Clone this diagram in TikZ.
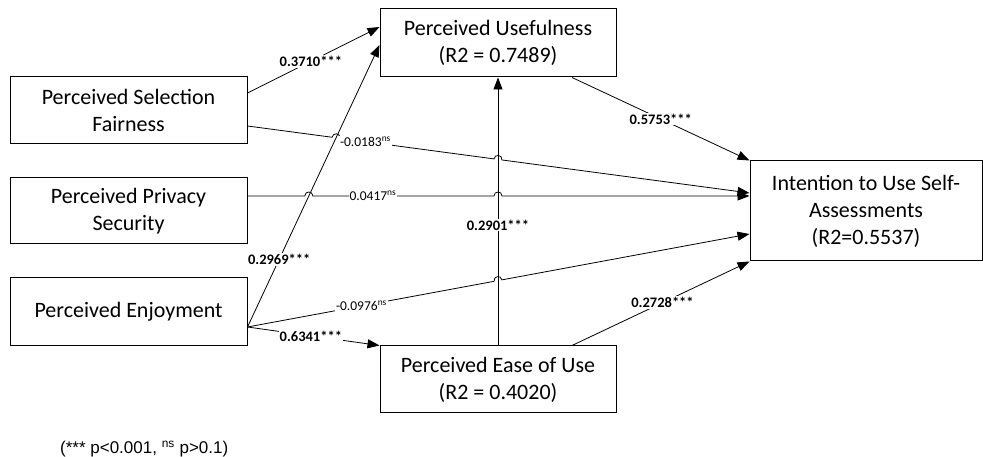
\documentclass[tikz,border=0pt]{standalone}
\usepackage{fontspec}
\setmainfont{Carlito}
\newfontfamily\arialf{Liberation Sans}
\usetikzlibrary{arrows.meta,calc}
\begin{document}
\begin{tikzpicture}[x=1pt,y=1pt,
  box/.style={draw, line width=1pt, inner sep=0pt, align=center, font=\fontsize{22}{27}\selectfont},
  conn/.style={line width=0.8pt, -{Triangle[length=12pt,width=9pt]}},
  lab/.style={fill=white, inner sep=1pt, font=\fontsize{14.5}{16}\selectfont\bfseries},
  labns/.style={fill=white, inner sep=1pt, font=\fontsize{13.5}{16}\selectfont}]
\useasboundingbox (0,0) rectangle (983,457);

% boxes
\node[box, minimum width=237, minimum height=67] (PSF) at (128.5,346.5) {Perceived Selection\\Fairness};
\node[box, minimum width=237, minimum height=66] (PPS) at (128.5,246) {Perceived Privacy\\Security};
\node[box, minimum width=237, minimum height=68] (PE) at (128.5,145) {Perceived Enjoyment};
\node[box, minimum width=236, minimum height=68] (PU) at (498,414) {Perceived Usefulness\\(R2 = 0.7489)};
\node[box, minimum width=236, minimum height=67] (PEOU) at (498,77.5) {Perceived Ease of Use\\(R2 = 0.4020)};
\node[box, minimum width=232, minimum height=100] (ITU) at (866,246) {Intention to Use Self-\\Assessments\\(R2=0.5537)};

% endpoints
\coordinate (s0a) at ([yshift=17.5]PSF.east);
\coordinate (s0b) at ([yshift=16]PU.west);
\coordinate (a1) at ([yshift=-15]PE.east);
\coordinate (a2) at ([yshift=-2]PU.west);
\coordinate (s1) at ([yshift=-15.5]PSF.east);
\coordinate (s2) at ([yshift=18]ITU.west);
\coordinate (p1) at ([yshift=15]PPS.east);
\coordinate (p2) at ([yshift=15]ITU.west);
\coordinate (e2) at ([yshift=-23]ITU.west);
\coordinate (v1) at (PEOU.north);
\coordinate (v2) at (PU.south);
\coordinate (u1) at ([xshift=74]PU.south);
\coordinate (q1) at ([xshift=74]PEOU.north);

% hop centres
\coordinate (h1) at (intersection of s1--s2 and a1--a2);
\coordinate (h2) at (intersection of s1--s2 and v1--v2);
\coordinate (h4) at (intersection of p1--p2 and a1--a2);
\coordinate (h5) at (intersection of p1--p2 and v1--v2);
\coordinate (h3) at (intersection of a1--e2 and v1--v2);
\coordinate (h1a) at ($(h1)!4pt!(s1)$); \coordinate (h1b) at ($(h1)!4pt!(s2)$);
\coordinate (h2a) at ($(h2)!4pt!(s1)$); \coordinate (h2b) at ($(h2)!4pt!(s2)$);
\coordinate (h4a) at ($(h4)!4pt!(p1)$); \coordinate (h4b) at ($(h4)!4pt!(p2)$);
\coordinate (h5a) at ($(h5)!4pt!(p1)$); \coordinate (h5b) at ($(h5)!4pt!(p2)$);
\coordinate (h3a) at ($(h3)!4pt!(a1)$); \coordinate (h3b) at ($(h3)!4pt!(e2)$);

% connectors
\draw[conn] (s0a) -- (s0b);
\draw[conn] (a1) -- (a2);
\draw[conn] (a1) -- (PEOU.north west);
\draw[conn] (v1) -- (v2);
\draw[conn] (u1) -- (ITU.north west);
\draw[conn] (q1) -- (ITU.south west);
\draw[conn] (s1) -- (h1a)
  .. controls ($(h1a)!5.33pt!-90:(s1)$) and ($(h1b)!5.33pt!90:(s2)$) .. (h1b)
  -- (h2a)
  .. controls ($(h2a)!5.33pt!-90:(s1)$) and ($(h2b)!5.33pt!90:(s2)$) .. (h2b)
  -- (s2);
\draw[conn] (p1) -- (h4a)
  .. controls ($(h4a)!5.33pt!-90:(p1)$) and ($(h4b)!5.33pt!90:(p2)$) .. (h4b)
  -- (h5a)
  .. controls ($(h5a)!5.33pt!-90:(p1)$) and ($(h5b)!5.33pt!90:(p2)$) .. (h5b)
  -- (p2);
\draw[conn] (a1) -- (h3a)
  .. controls ($(h3a)!5.33pt!-90:(a1)$) and ($(h3b)!5.33pt!90:(e2)$) .. (h3b)
  -- (e2);

% labels
\node[lab] (l1) at ($(s0a)!0.48!(s0b)$) {0.3710***};
\node[lab] (l2) at ($(a1)!0.24!(a2)$) {0.2969***};
\node[labns] (l3) at ($(s1)!0.235!(s2)$) {-0.0183\textsuperscript{ns}};
\node[labns] (l4) at ($(p1)!0.25!(p2)$) {0.0417\textsuperscript{ns}};
\node[labns] (l5) at ($(a1)!0.227!(e2)$) {-0.0976\textsuperscript{ns}};
\node[lab] (l6) at ($(a1)!0.48!(PEOU.north west)$) {0.6341***};
\node[lab] (l7) at ($(v1)!0.45!(v2)$) {0.2901***};
\node[lab] (l8) at ($(u1)!0.5!(ITU.north west)$) {0.5753***};
\node[lab] (l9) at ($(q1)!0.51!(ITU.south west)$) {0.2728***};

% footnote
\node[anchor=base west, inner sep=0pt, font=\arialf\fontsize{17}{20}\selectfont] (fn) at (60,3.7) {(*** p<0.001, \textsuperscript{ns} p>0.1)};
\end{tikzpicture}
\end{document}
